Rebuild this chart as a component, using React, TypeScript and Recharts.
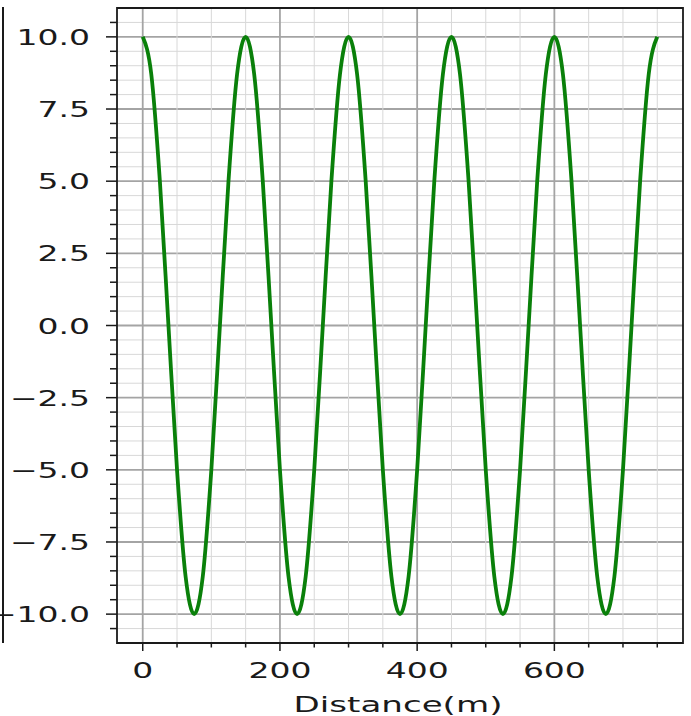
import { LineChart, Line, XAxis, YAxis, CartesianGrid, ReferenceArea } from "recharts";

// cosine-like trace, one sample every 12.5 m
const DISTANCE = [
  0, 12.5, 25, 37.5, 50, 62.5, 75, 87.5, 100, 112.5, 125, 137.5,
  150, 162.5, 175, 187.5, 200, 212.5, 225, 237.5, 250, 262.5, 275, 287.5,
  300, 312.5, 325, 337.5, 350, 362.5, 375, 387.5, 400, 412.5, 425, 437.5,
  450, 462.5, 475, 487.5, 500, 512.5, 525, 537.5, 550, 562.5, 575, 587.5,
  600, 612.5, 625, 637.5, 650, 662.5, 675, 687.5, 700, 712.5, 725, 737.5,
  750,
];
const AMPLITUDE = [
  10, 8.7, 5, 0, -5, -8.7, -10, -8.7, -5, 0, 5, 8.7,
  10, 8.7, 5, 0, -5, -8.7, -10, -8.7, -5, 0, 5, 8.7,
  10, 8.7, 5, 0, -5, -8.7, -10, -8.7, -5, 0, 5, 8.7,
  10, 8.7, 5, 0, -5, -8.7, -10, -8.7, -5, 0, 5, 8.7,
  10, 8.7, 5, 0, -5, -8.7, -10, -8.7, -5, 0, 5, 8.7,
  10,
];

const X_TICKS = [0, 50, 100, 150, 200, 250, 300, 350, 400, 450, 500, 550, 600, 650, 700, 750];
const X_MAJOR = [0, 200, 400, 600];
const Y_TICKS = [
  -10.5, -10, -9.5, -9, -8.5, -8, -7.5, -7, -6.5, -6, -5.5, -5, -4.5, -4, -3.5, -3, -2.5, -2, -1.5, -1, -0.5,
  0, 0.5, 1, 1.5, 2, 2.5, 3, 3.5, 4, 4.5, 5, 5.5, 6, 6.5, 7, 7.5, 8, 8.5, 9, 9.5, 10, 10.5,
];
const Y_MAJOR = [-10, -7.5, -5, -2.5, 0, 2.5, 5, 7.5, 10];

const data = DISTANCE.map((d, i) => ({ distance: d, amplitude: AMPLITUDE[i] }));

const FONT = "DejaVu Sans, sans-serif";
const INK = "#1a1a1a";
const MAJOR_GRID = "#a4a4a4";
const MINOR_GRID = "#d8d8d8";
const STRETCH = 1.5;

const fmt = (v: number) => v.toFixed(1).replace("-", "\u2212");

const XTick = (props: any) => {
  const { x, y, payload } = props;
  const major = X_MAJOR.includes(payload.value);
  return (
    <g>
      <line x1={x} y1={y} x2={x} y2={y + (major ? 8 : 4.5)} stroke={INK} strokeWidth={1.5} />
      {major && (
        <text
          transform={`translate(${x} ${y + 35}) scale(${STRETCH} 1)`}
          textAnchor="middle"
          fontSize={22}
          fontFamily={FONT}
          fill={INK}
        >
          {payload.value}
        </text>
      )}
    </g>
  );
};

const YTick = (props: any) => {
  const { x, y, payload } = props;
  const major = Y_MAJOR.includes(payload.value);
  return (
    <g>
      <line x1={x - (major ? 11 : 7)} y1={y} x2={x} y2={y} stroke={INK} strokeWidth={1.5} />
      {major && (
        <text
          transform={`translate(${x - 27} ${y + 8}) scale(${STRETCH} 1)`}
          textAnchor="end"
          fontSize={22}
          fontFamily={FONT}
          fill={INK}
        >
          {fmt(payload.value)}
        </text>
      )}
    </g>
  );
};

const verticalLine = (props: any) => {
  const v = X_TICKS[props.index];
  if (v === undefined) return <g key={`v-${props.index}`} />;
  const major = X_MAJOR.includes(v);
  return (
    <line
      key={`v-${props.index}`}
      x1={props.x1}
      y1={props.y1}
      x2={props.x2}
      y2={props.y2}
      stroke={major ? MAJOR_GRID : MINOR_GRID}
      strokeWidth={major ? 1.8 : 1}
    />
  );
};

const horizontalLine = (props: any) => {
  const v = Y_TICKS[props.index];
  if (v === undefined) return <g key={`h-${props.index}`} />;
  const major = Y_MAJOR.includes(v);
  return (
    <line
      key={`h-${props.index}`}
      x1={props.x1}
      y1={props.y1}
      x2={props.x2}
      y2={props.y2}
      stroke={major ? MAJOR_GRID : MINOR_GRID}
      strokeWidth={major ? 1.8 : 1}
    />
  );
};

const AxisTitle = (props: any) => {
  const { viewBox } = props;
  const cx = viewBox.x + viewBox.width / 2;
  return (
    <text
      transform={`translate(${cx - 2} ${viewBox.y + 69}) scale(1.55 1)`}
      textAnchor="middle"
      fontSize={22}
      fontFamily={FONT}
      fill={INK}
    >
      Distance(m)
    </text>
  );
};

export default function App() {
  return (
    <div style={{ position: "absolute", left: 0, top: 0, width: 691, height: 716, background: "#fff" }}>
      {/* right spine of the neighbouring subplot, cut by the crop */}
      <div style={{ position: "absolute", left: 2, top: 7, width: 2, height: 636, background: INK }} />
      <LineChart
        width={691}
        height={716}
        data={data}
        margin={{ top: 8, right: 8, left: 0, bottom: 0 }}
      >
        <CartesianGrid
          syncWithTicks
          vertical={verticalLine}
          horizontal={horizontalLine}
        />
        <XAxis
          dataKey="distance"
          type="number"
          domain={[-37.5, 787.5]}
          allowDataOverflow
          ticks={X_TICKS}
          interval={0}
          height={73}
          tickSize={0}
          tickMargin={0}
          tickLine={false}
          axisLine={false}
          tick={<XTick />}
          label={<AxisTitle />}
        />
        <YAxis
          type="number"
          domain={[-11, 11]}
          allowDataOverflow
          ticks={Y_TICKS}
          interval={0}
          width={117}
          tickSize={0}
          tickMargin={0}
          tickLine={false}
          axisLine={false}
          tick={<YTick />}
        />
        <Line
          type="monotone"
          dataKey="amplitude"
          stroke="#0a800a"
          strokeWidth={3.8}
          dot={false}
          isAnimationActive={false}
        />
        <ReferenceArea
          x1={-37.5}
          x2={787.5}
          y1={-11}
          y2={11}
          fill="none"
          stroke={INK}
          strokeWidth={1.8}
          ifOverflow="visible"
        />
      </LineChart>
    </div>
  );
}
